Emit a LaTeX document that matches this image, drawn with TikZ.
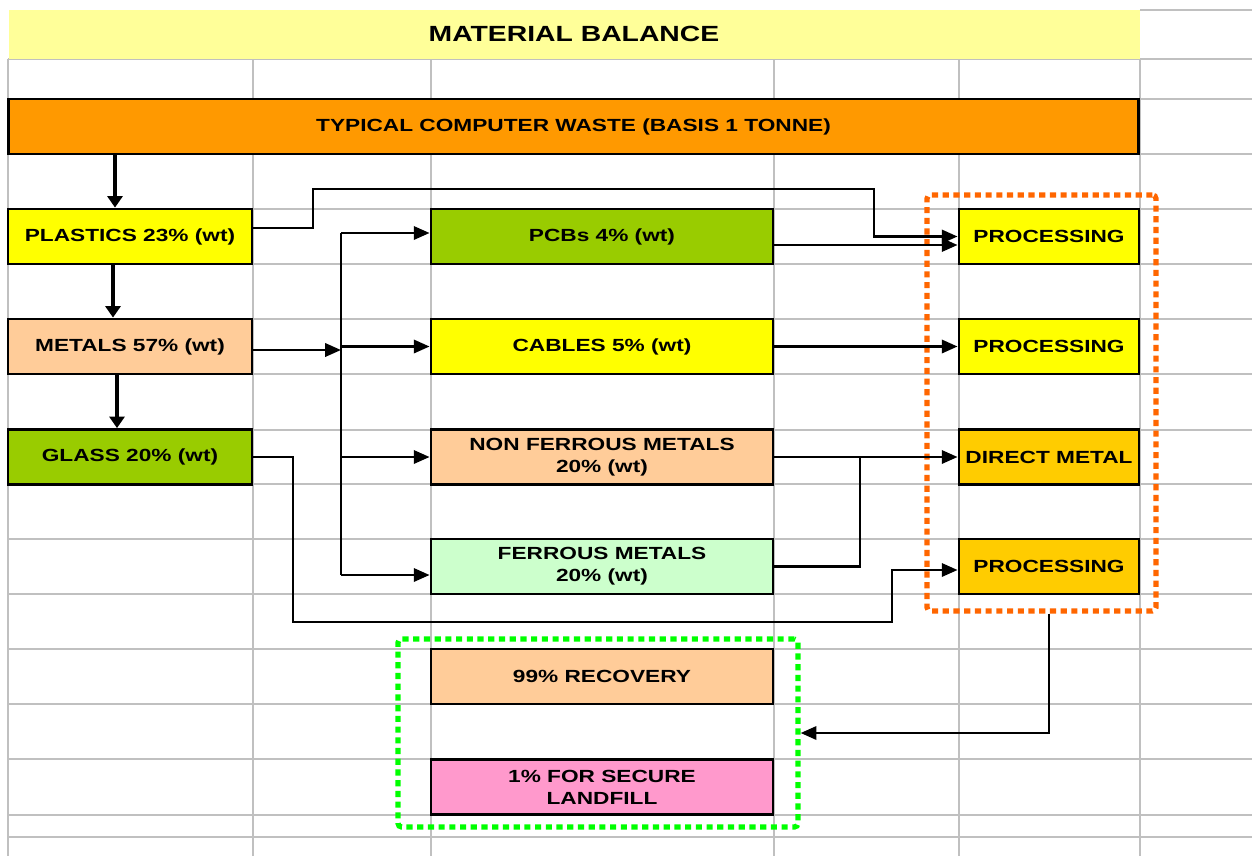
\documentclass[tikz,border=0pt]{standalone}
\usepackage{fontspec}
\newfontfamily\lbl{Liberation Sans}[FakeStretch=1.29]
\usetikzlibrary{arrows.meta,calc}
\definecolor{gridgray}{HTML}{C0C0C0}
\definecolor{titleyellow}{HTML}{FFFF99}
\definecolor{wasteorange}{HTML}{FF9900}
\definecolor{plainyellow}{HTML}{FFFF00}
\definecolor{peach}{HTML}{FFCC99}
\definecolor{leafgreen}{HTML}{99CC00}
\definecolor{mint}{HTML}{CCFFCC}
\definecolor{gold}{HTML}{FFCC00}
\definecolor{rose}{HTML}{FF99CC}
\definecolor{grouporange}{HTML}{FF6600}
\definecolor{groupgreen}{HTML}{00FF00}
\begin{document}
\begin{tikzpicture}[x=0.02cm,y=-0.02cm,
  box/.style={draw=black, line width=1.6pt, rectangle, inner sep=0pt, align=center,
    font=\lbl\bfseries\fontsize{10}{12.5}\selectfont, minimum height=1.1cm},
  leftbox/.style={box, minimum width=4.88cm},
  midbox/.style={box, minimum width=6.84cm},
  rightbox/.style={box, minimum width=3.6cm},
  conn/.style={line width=1.6pt, -{Triangle[length=9pt,width=7.5pt]}},
  feed/.style={line width=2.3pt, -{Triangle[length=6.5pt,width=8.5pt]}},
  wire/.style={line width=1.6pt},
  group/.style={rectangle, inner sep=0pt, line width=3pt,
    dash pattern=on 3.5pt off 2.6pt, rounded corners=2pt},
  gridline/.style={gridgray, line width=1pt}]

\fill[white] (0,0) rectangle (1252,856);
\useasboundingbox (0,0) rectangle (1252,856);

% spreadsheet grid
\foreach \y in {59,99,154,209,264,319,374,430,484,539,594,649,704,759,815,837}
  \draw[gridline] (8,\y) -- (1252,\y);
\draw[gridline] (1140,10) -- (1252,10);
\foreach \x in {8,253,431,774,959,1140}
  \draw[gridline] (\x,59) -- (\x,856);

% title band
\fill[titleyellow] (9,10) rectangle (1140,59);
\node[font=\lbl\bfseries\fontsize{12.5}{15}\selectfont] (title) at (574,34) {MATERIAL BALANCE};

% dotted groups
\node[group, draw=grouporange, minimum width=4.58cm, minimum height=8.32cm] (procgroup) at (1041.5,403) {};
\node[group, draw=groupgreen, minimum width=8cm, minimum height=3.76cm] (recgroup) at (598,733) {};

% boxes
\node[box, fill=wasteorange, minimum width=22.62cm] (waste) at (573.5,126.5) {TYPICAL COMPUTER WASTE (BASIS 1 TONNE)};

\node[leftbox, fill=plainyellow] (plastics) at (130,236.5) {PLASTICS 23\% (wt)};
\node[leftbox, fill=peach] (metals) at (130,346.5) {METALS 57\% (wt)};
\node[leftbox, fill=leafgreen] (glass) at (130,457) {GLASS 20\% (wt)};

\node[midbox, fill=leafgreen] (pcbs) at (602,236.5) {PCBs 4\% (wt)};
\node[midbox, fill=plainyellow] (cables) at (602,346.5) {CABLES 5\% (wt)};
\node[midbox, fill=peach] (nonferrous) at (602,457) {NON FERROUS METALS\\20\% (wt)};
\node[midbox, fill=mint] (ferrous) at (602,566.5) {FERROUS METALS\\20\% (wt)};
\node[midbox, fill=peach] (recovery) at (602,676.5) {99\% RECOVERY};
\node[midbox, fill=rose] (landfill) at (602,787) {1\% FOR SECURE\\LANDFILL};

\node[rightbox, fill=plainyellow] (proc1) at (1049,236.5) {PROCESSING};
\node[rightbox, fill=plainyellow] (proc2) at (1049,346.5) {PROCESSING};
\node[rightbox, fill=gold] (direct) at (1049,457) {DIRECT METAL};
\node[rightbox, fill=gold] (proc3) at (1049,566.5) {PROCESSING};

% downward feeds
\draw[feed] ([xshift=-0.3cm]plastics.north |- waste.south) -- ([xshift=-0.3cm]plastics.north);
\draw[feed] ([xshift=-0.34cm]metals.north |- plastics.south) -- ([xshift=-0.34cm]metals.north);
\draw[feed] ([xshift=-0.26cm]glass.north |- metals.south) -- ([xshift=-0.26cm]glass.north);

% plastics to processing
\draw[conn] ([yshift=0.17cm]plastics.east) -| (313,189) -| (874,236.5) -- (proc1.west);
\draw[conn] ([yshift=-0.17cm]pcbs.east) -- ([yshift=-0.17cm]proc1.west);

% metals distribution bus
\coordinate (bustop) at (341,233);
\coordinate (busbot) at (341,575);
\draw[wire] (bustop) -- (busbot);
\draw[conn] ([yshift=-0.07cm]metals.east) -- ([yshift=-0.07cm]metals.east -| bustop);
\draw[conn] (bustop) -- (bustop -| pcbs.west);
\draw[conn] (bustop |- cables.west) -- (cables.west);
\draw[conn] (bustop |- nonferrous.west) -- (nonferrous.west);
\draw[conn] (busbot) -- (busbot -| ferrous.west);

% outputs to processing
\draw[conn] (cables.east) -- (proc2.west);
\draw[conn] (nonferrous.east) -- (direct.west);
\coordinate (join) at (860,457);
\draw[wire] (ferrous.east) -| (join);

% glass route
\draw[conn] (glass.east) -| (293,622) -| (892,570) -- (proc3.west |- 0,570);

% processing to recovery
\draw[conn] (proc3 |- procgroup.south) |- (recgroup.east);
\end{tikzpicture}
\end{document}
